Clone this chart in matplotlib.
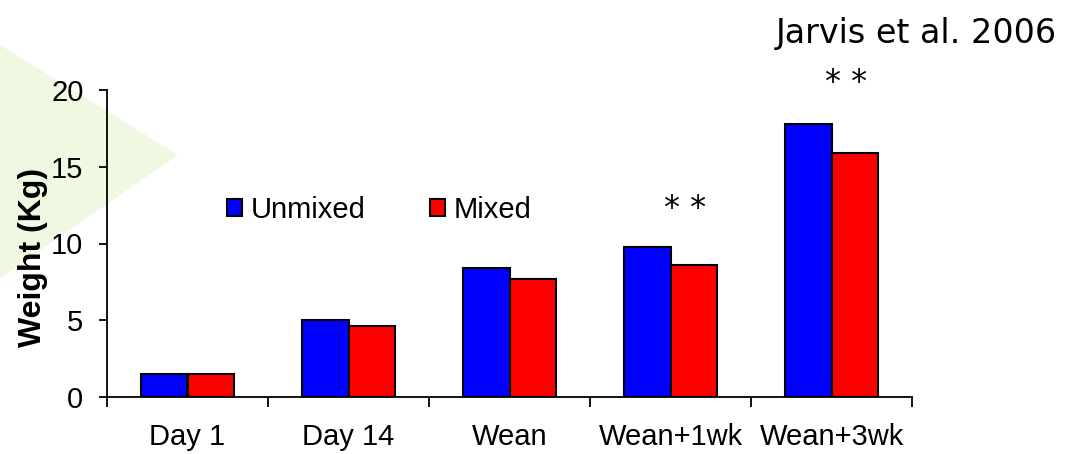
import matplotlib
matplotlib.use('Agg')
import matplotlib.pyplot as plt
from matplotlib.patches import Polygon
import numpy as np

categories = ['Day 1', 'Day 14', 'Wean', 'Wean+1wk', 'Wean+3wk']
unmixed = [1.5, 5.0, 8.4, 9.8, 17.8]
mixed = [1.5, 4.6, 7.7, 8.6, 15.9]
# significance marks: (category index, height)
sig_marks = [(3, 12.3), (4, 20.5)]

plt.rcParams['font.family'] = ['Liberation Sans', 'DejaVu Sans']

fig = plt.figure(figsize=(10.67, 4.54), dpi=100)

# pale green slide decoration on the left
tri = Polygon([[0, 1 - 45 / 454], [178 / 1067, 1 - 155 / 454], [0, 1 - 278 / 454]],
              closed=True, transform=fig.transFigure, facecolor='#eff9e2',
              edgecolor='none', zorder=-5)
fig.patches.append(tri)

ax = fig.add_axes([107 / 1067, 1 - 397 / 454, (912 - 107) / 1067, (397 - 90) / 454])
ax.patch.set_alpha(0)

x = np.arange(len(categories)) + 0.5
w = 0.29
ax.bar(x - w / 2, unmixed, w, color='#0000ff', edgecolor='black', linewidth=1.5,
       label='Unmixed')
ax.bar(x + w / 2, mixed, w, color='#ff0000', edgecolor='black', linewidth=1.5,
       label='Mixed')

for i, h in sig_marks:
    ax.text(x[i] + 0.09, h, '* *', ha='center', va='center', fontsize=23,
            family='DejaVu Sans')

ax.set_xlim(0, len(categories))
ax.set_ylim(0, 20)
ax.set_yticks([0, 5, 10, 15, 20])
# group boundaries get the tick marks, labels sit at group centres
ax.set_xticks(np.arange(len(categories) + 1))
ax.set_xticklabels([])
ax.set_xticks(x, minor=True)
ax.set_xticklabels(categories, minor=True)
ax.tick_params(axis='x', which='minor', length=0, pad=19, labelsize=21)
ax.tick_params(axis='x', which='major', length=7, width=1.3, direction='out')
ax.tick_params(axis='y', length=6, width=1.3, direction='out', labelsize=21, pad=11)

for s in ['top', 'right']:
    ax.spines[s].set_visible(False)
for s in ['left', 'bottom']:
    ax.spines[s].set_linewidth(1.3)

ax.set_ylabel('Weight (Kg)', fontsize=23, fontweight='bold', va='center')
ax.yaxis.set_label_coords(-0.092, 0.455)

leg = ax.legend(loc='center left', bbox_to_anchor=(0.149, 0.609), ncol=2, frameon=False,
                fontsize=21, handlelength=0.52, handleheight=0.52, handletextpad=0.3,
                columnspacing=2.2, borderpad=0, borderaxespad=0)

fig.text(1057 / 1067, 1 - 33 / 454, 'Jarvis et al. 2006', ha='right', va='center',
         fontsize=24, family='DejaVu Sans')

fig.savefig('out.png', dpi=100)
